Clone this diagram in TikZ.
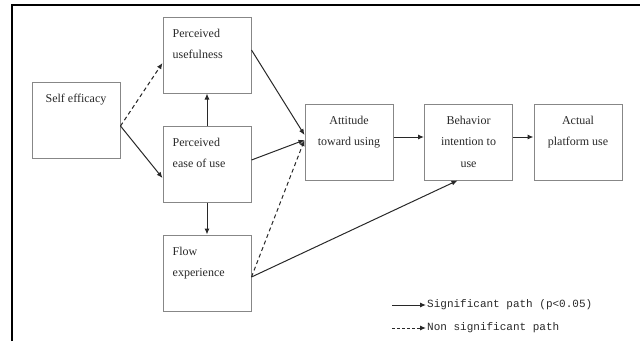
\documentclass[tikz,border=0pt]{standalone}
\usepackage{fontspec}
\setmainfont{Liberation Serif}
\newfontfamily\legendfont{Liberation Mono}
\usetikzlibrary{arrows.meta}
\definecolor{boxgray}{RGB}{135,135,135}
\definecolor{inkgray}{RGB}{40,40,40}

\begin{document}
\begin{tikzpicture}[x=1pt, y=-1pt, >={Latex[length=6pt,width=5pt]}]

\tikzset{ construct/.style={draw=boxgray, line width=1pt, minimum width=88pt,
    minimum height=76pt, inner sep=0pt},
  txt/.style={inner sep=0pt, yshift=-12pt, text=inkgray,
    font={\fontsize{12}{21.5}\selectfont}},
  path/.style={->, draw=inkgray, line width=1pt},
  nspath/.style={path, dash pattern=on 4pt off 3pt},
  legend/.style={anchor=west, inner sep=1pt, text=inkgray,
    font={\legendfont\fontsize{11}{13}\selectfont}}
}

\useasboundingbox (0,0) rectangle (640,341);

% frame
\draw[line width=2pt] (11.5,341) -- (11.5,5) -- (640,5);

% constructs
\node[construct, label={[txt, anchor=north, align=center]north:Self efficacy}] (se) at (76,120) {};
\node[construct, label={[txt, anchor=north west, align=left, xshift=10pt]north west:{Perceived\\usefulness}}] (pu) at (207,55) {};
\node[construct, label={[txt, anchor=north west, align=left, xshift=10pt]north west:{Perceived\\ease of use}}] (peou) at (207,164) {};
\node[construct, label={[txt, anchor=north west, align=left, xshift=10pt]north west:{Flow\\experience}}] (flow) at (207,273) {};
\node[construct, label={[txt, anchor=north, align=center]north:{Attitude\\toward using}}] (att) at (349,142) {};
\node[construct, label={[txt, anchor=north, align=center]north:{Behavior\\intention to\\use}}] (bi) at (468.5,142) {};
\node[construct, label={[txt, anchor=north, align=center]north:{Actual\\platform use}}] (apu) at (578,142) {};

% paths
\draw[nspath] ([yshift=-6pt]se.east) -- ([yshift=-8pt]pu.west);
\draw[path] ([yshift=-6pt]se.east) -- ([yshift=-14pt]peou.west);
\draw[path] (peou) -- (pu);
\draw[path] (peou) -- (flow);
\draw[path] ([yshift=5pt]pu.east) -- ([yshift=7pt]att.west);
\draw[path] ([yshift=4pt]peou.east) -- ([yshift=2pt]att.west);
\draw[nspath] ([yshift=-4pt]flow.east) -- ([yshift=2pt]att.west);
\draw[path] ([yshift=-4pt]flow.east) -- ([xshift=-11pt]bi.south);
\draw[path] ([yshift=5pt]att.east) -- ([yshift=5pt]bi.west);
\draw[path] ([yshift=5pt]bi.east) -- ([yshift=5pt]apu.west);

% legend
\node[legend] (sig) at (426,305) {Significant path (p<0.05)};
\node[legend] (nonsig) at (426,328) {Non significant path};
\coordinate (sigstart) at (392,305);
\coordinate (nonsigstart) at (392,328);
\draw[path] (sigstart) -- (sig.west);
\draw[path, dash pattern=on 3pt off 2pt] (nonsigstart) -- (nonsig.west);

\end{tikzpicture}
\end{document}
